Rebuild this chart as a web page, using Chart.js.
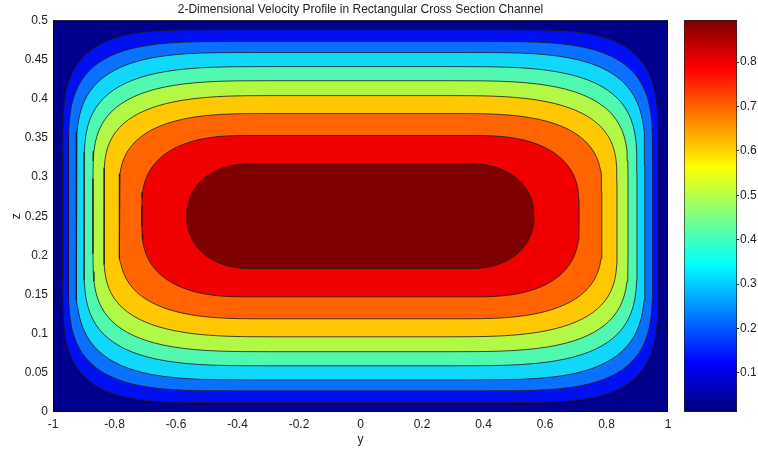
<!DOCTYPE html>
<html lang="en">
<head>
<meta charset="UTF-8">
<title>2-Dimensional Velocity Profile in Rectangular Cross Section Channel</title>
<script src="https://cdn.jsdelivr.net/npm/chart.js"></script>
<style>
  body { margin: 0; background: #fff; }
  #wrap { position: relative; width: 758px; height: 450px; }
  #plot { position: absolute; left: 0; top: 0; }
  #cbar { position: absolute; left: 684px; top: 0; }
</style>
</head>
<body>
<div id="wrap">
  <canvas id="plot" width="758" height="450"></canvas>
  <canvas id="cbar" width="74" height="450"></canvas>
</div>
<script>
// contour lines, innermost first
const bandColors = ['#7f0000', '#f00000', '#ff6400', '#ffc800', '#b4f846', '#50f8b0', '#10d8fa', '#0a70ff', '#0010f2'];
const halfWidth  = [0.564, 0.711, 0.785, 0.834, 0.870, 0.899, 0.925, 0.950, 0.968];  // along y, at z = 0.25
const halfHeight = [0.067, 0.103, 0.131, 0.154, 0.173, 0.191, 0.209, 0.223, 0.238];  // along z, at y = 0
const cornerY    = [0.21, 0.34, 0.46, 0.55, 0.58, 0.60, 0.58, 0.55, 0.50];           // how far the bend reaches along y
const cornerZ    = [0.067, 0.09, 0.10, 0.11, 0.125, 0.135, 0.145, 0.15, 0.155];      // how far the bend reaches along z
const cornerPow  = [2.2, 2.5, 2.8, 3.0, 3.2, 3.3, 3.4, 3.5, 3.6];
const outerColor = '#00008c';
const centerZ    = 0.25;

const xTicks = [-1, -0.8, -0.6, -0.4, -0.2, 0, 0.2, 0.4, 0.6, 0.8, 1];
const zTicks = [0, 0.05, 0.1, 0.15, 0.2, 0.25, 0.3, 0.35, 0.4, 0.45, 0.5];
const cbarTicks = [0.1, 0.2, 0.3, 0.4, 0.5, 0.6, 0.7, 0.8];
const cbarMin = 0.012, cbarMax = 0.895;

const textColor = '#222';
const font = { family: 'Liberation Sans, Arial, sans-serif', size: 12 };

// outline of one contour level: box with superellipse bends at the corners
function contourPoints(i) {
  const a = halfWidth[i], b = halfHeight[i], ry = cornerY[i], rz = cornerZ[i], p = 2 / cornerPow[i];
  const cy = a - ry, cz = b - rz;
  const centers = [[cy, cz], [-cy, cz], [-cy, -cz], [cy, -cz]];
  const pts = [];
  const n = 24;
  centers.forEach((c, k) => {
    for (let j = 0; j <= n; j++) {
      const t = (k + j / n) * Math.PI / 2;
      const ct = Math.cos(t), st = Math.sin(t);
      pts.push({
        x: c[0] + ry * Math.sign(ct) * Math.pow(Math.abs(ct), p),
        y: centerZ + c[1] + rz * Math.sign(st) * Math.pow(Math.abs(st), p)
      });
    }
  });
  pts.push(pts[0]);
  return pts;
}

const datasets = bandColors.map((col, i) => ({
  data: contourPoints(i),
  showLine: true,
  fill: 'shape',
  backgroundColor: col,
  borderColor: '#1c1c1c',
  borderWidth: 0.8,
  pointRadius: 0,
  tension: 0
}));

const frame = {
  id: 'frame',
  beforeDatasetsDraw(chart) {
    const a = chart.chartArea, ctx = chart.ctx;
    ctx.save();
    ctx.fillStyle = outerColor;
    ctx.fillRect(a.left, a.top, a.right - a.left, a.bottom - a.top);
    ctx.restore();
  },
  afterDatasetsDraw(chart) {
    const a = chart.chartArea, ctx = chart.ctx;
    ctx.save();
    ctx.strokeStyle = '#000';
    ctx.lineWidth = 1;
    ctx.strokeRect(a.left + 0.5, a.top + 0.5, a.right - a.left - 1, a.bottom - a.top - 1);
    ctx.restore();
  }
};

new Chart(document.getElementById('plot'), {
  type: 'scatter',
  data: { datasets },
  options: {
    responsive: false,
    animation: false,
    devicePixelRatio: 1,
    layout: { padding: { left: 0, right: 90, top: 0, bottom: 0 } },
    plugins: {
      legend: { display: false },
      tooltip: { enabled: false },
      title: {
        display: true,
        fullSize: false,
        text: '2-Dimensional Velocity Profile in Rectangular Cross Section Channel',
        color: textColor,
        font: { family: font.family, size: 12, weight: 'normal' },
        padding: { top: 2, bottom: 4 }
      }
    },
    scales: {
      x: {
        type: 'linear', min: -1, max: 1,
        afterBuildTicks: s => { s.ticks = xTicks.map(v => ({ value: v })); },
        afterFit: s => { s.height = 38; },
        grid: { display: false, drawTicks: false },
        border: { display: false },
        ticks: { font, color: textColor, padding: 5, maxRotation: 0, callback: v => String(v) },
        title: { display: true, text: 'y', font, color: textColor, padding: { top: 0, bottom: 3 } }
      },
      y: {
        type: 'linear', min: 0, max: 0.5,
        afterBuildTicks: s => { s.ticks = zTicks.map(v => ({ value: v })); },
        afterFit: s => { s.width = 53; },
        grid: { display: false, drawTicks: false },
        border: { display: false },
        ticks: { font, color: textColor, padding: 5, callback: v => String(v) },
        title: { display: true, text: 'z', font, color: textColor, padding: { top: 9, bottom: 0 } }
      }
    }
  },
  plugins: [frame]
});

// jet colormap anchors
const jet = [[0, '#000080'], [0.125, '#0000ff'], [0.375, '#00ffff'], [0.625, '#ffff00'], [0.875, '#ff0000'], [1, '#800000']];

new Chart(document.getElementById('cbar'), {
  type: 'bar',
  data: {
    labels: ['v'],
    datasets: [{
      data: [[cbarMin, cbarMax]],
      barPercentage: 1,
      categoryPercentage: 1,
      borderWidth: 1,
      borderColor: '#222',
      borderSkipped: false,
      backgroundColor: ctx => {
        const a = ctx.chart.chartArea;
        if (!a) return outerColor;
        const g = ctx.chart.ctx.createLinearGradient(0, a.bottom, 0, a.top);
        jet.forEach(s => g.addColorStop(s[0], s[1]));
        return g;
      }
    }]
  },
  options: {
    responsive: false,
    animation: false,
    devicePixelRatio: 1,
    layout: { padding: { left: 0, right: 0, top: 20, bottom: 38 } },
    plugins: { legend: { display: false }, tooltip: { enabled: false } },
    scales: {
      x: { display: false },
      y: {
        position: 'right',
        min: cbarMin, max: cbarMax,
        afterBuildTicks: s => { s.ticks = cbarTicks.map(v => ({ value: v })); },
        afterFit: s => { s.width = 21; },
        grid: { drawOnChartArea: false, tickLength: 2, color: '#222' },
        border: { display: false },
        ticks: { font, color: textColor, padding: 1, callback: v => String(v) }
      }
    }
  }
});
</script>
</body>
</html>
